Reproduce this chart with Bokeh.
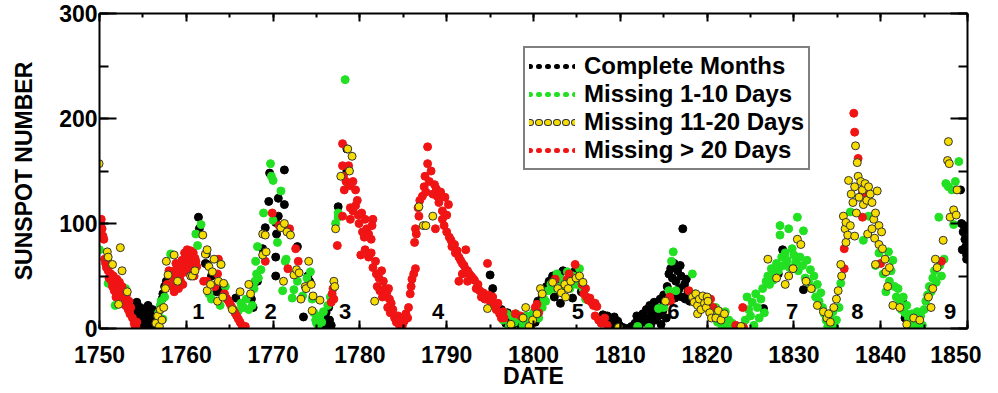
from bokeh.plotting import figure
from bokeh.models import (LinearAxis, SingleIntervalTicker, Range1d, Legend,
                          LegendItem, ColumnDataSource)
from bokeh.embed import file_html
from bokeh.resources import INLINE
from bokeh.core.properties import value

# ---------------- data (year, monthly sunspot number) ----------------
complete_months = [
    (1753.9,22),(1754.0,18),(1754.2,12),(1754.3,25),(1754.4,8),(1754.5,15),(1754.6,3),(1754.7,20),
    (1754.8,10),(1754.9,5),(1755.0,14),(1755.1,1),(1755.2,8),(1755.3,18),(1755.4,3),(1755.5,10),
    (1755.6,22),(1755.7,6),(1755.8,14),(1755.9,2),(1756.0,9),(1756.1,18),(1756.2,4),(1756.4,12),
    (1757.2,28),(1757.3,33),(1757.5,40),(1757.7,45),
    (1761.4,106),(1761.5,95),(1762.2,62),(1762.3,71),(1762.4,61),(1762.9,50),(1763.5,35),(1764.2,38),
    (1765.7,29),(1767.5,28),(1767.7,20),(1768.2,45),(1768.8,76),(1769.1,96),(1769.5,121),(1769.6,148),
    (1770.3,101),(1770.6,107),(1770.6,124),(1771.3,151),(1771.3,118),(1770.3,68),(1770.3,50),(1770.4,90),
    (1772.8,78),(1774.0,50),(1774.2,45),(1774.3,43),(1773.5,11),
    (1775.6,2),(1775.8,10),(1776.0,5),(1776.1,15),(1776.2,1),(1776.4,20),(1776.5,8),(1776.7,3),
    (1777.5,116),(1778.5,171),(1778.5,150),
    (1795.0,51),(1795.3,38),(1796.3,18),(1796.6,12),(1796.8,5),(1797.0,15),(1797.3,8),(1797.6,3),
    (1797.9,10),(1798.2,6),(1798.6,2),(1799.0,9),(1799.4,4),(1799.8,12),(1800.2,6),(1800.5,26),(1801.0,30),
    (1801.5,40),(1801.8,45),(1802.2,50),(1802.4,30),(1802.7,47),(1803.0,52),(1803.1,24),(1803.4,55),
    (1803.8,40),(1804.1,49),(1804.5,29),(1804.8,55),(1805.1,43),(1805.5,35),
    (1807.6,10),(1808.0,13),(1808.3,6),(1808.5,12),(1808.7,2),(1808.9,9),(1809.1,4),(1809.3,11),
    (1809.5,1),(1809.7,7),(1809.9,3),(1810.3,1),(1810.8,0),(1811.3,2),(1811.7,5),(1811.9,12),
    (1812.2,3),(1812.4,9),(1812.6,14),(1812.8,6),(1813.0,18),(1813.2,10),(1813.4,22),(1813.5,3),
    (1813.7,15),(1813.9,25),(1814.0,8),(1814.2,20),(1814.4,12),(1814.6,28),(1814.7,4),(1814.9,17),
    (1815.0,32),(1815.1,24),(1815.3,10),
    (1815.4,40),(1815.6,52),(1815.8,57),(1816.0,48),(1816.2,62),(1816.3,29),(1816.4,45),(1816.6,55),
    (1816.6,33),(1816.8,38),(1816.9,60),(1817.0,50),(1817.1,30),(1817.2,95),(1817.4,42),(1817.5,28),
    (1817.6,47),(1817.8,35),(1818.0,26),
    (1826.5,19),(1827.5,48),(1828.2,52),(1828.7,75),(1831.1,37),
    (1842.5,26),(1842.8,10),(1843.5,7),(1844.0,3),
    (1849.2,132),(1849.3,100),(1849.4,75),(1849.5,92),(1849.6,98),(1849.7,85),(1849.8,78),
    (1849.8,95),(1849.9,70),(1849.9,66),
]

missing_1_10 = [
    (1750.0,75),(1751.0,43),(1751.8,22),(1753.0,38),
    (1756.8,15),(1757.0,22),(1757.1,26),(1757.3,9),(1757.5,30),(1758.0,42),(1758.2,71),
    (1761.1,90),(1761.3,79),(1761.7,99),
    (1762.6,33),(1762.9,28),(1763.9,22),(1764.0,61),(1764.5,40),
    (1766.0,17),(1766.3,24),(1766.6,20),(1766.9,28),(1767.2,18),(1767.6,22),(1767.8,38),(1767.9,45),
    (1768.0,64),(1768.1,52),(1768.2,78),(1768.3,48),(1768.6,56),(1768.9,110),(1769.7,157),(1769.8,145),
    (1770.0,141),(1770.0,103),(1770.5,82),(1770.9,131),(1771.4,64),(1771.5,66),
    (1771.1,36),(1772.2,29),(1772.4,37),(1772.8,45),(1773.4,31),(1773.9,48),(1774.3,54),(1774.5,28),
    (1774.7,15),(1774.9,8),(1775.0,5),(1775.2,3),(1775.4,12),(1775.6,6),(1775.8,16),(1776.3,22),(1776.6,30),
    (1777.2,100),(1777.5,106),(1777.5,110),(1778.3,237),(1778.6,138),
    (1796.5,8),(1796.9,14),(1797.2,2),(1797.5,12),(1797.8,6),(1798.0,14),(1798.4,9),(1798.8,3),
    (1799.2,12),(1799.6,7),(1800.0,15),(1800.6,10),(1801.0,20),(1801.2,28),(1801.4,26),(1801.7,36),
    (1802.0,42),(1802.3,38),(1802.7,52),(1803.0,48),(1803.2,40),(1803.5,45),(1803.9,54),(1804.2,38),
    (1804.6,50),(1805.0,42),(1805.3,57),(1805.7,38),(1806.0,28),
    (1812.0,2),(1813.3,1),(1814.4,19),(1815.0,20),(1815.6,36),(1815.9,64),(1816.1,73),(1816.4,36),
    (1818.3,52),(1818.6,33),(1819.0,30),(1819.4,25),
    (1820.3,22),(1820.6,18),(1820.8,12),(1821.0,20),(1821.2,6),(1821.4,14),(1821.7,3),(1821.9,10),
    (1822.1,16),(1822.3,1),(1822.5,8),(1822.7,2),(1822.9,5),(1823.2,0),(1823.5,2),(1823.8,1),
    (1824.4,8),(1824.6,30),(1824.8,18),(1825.0,12),(1825.2,25),(1825.4,3),(1825.6,33),(1825.8,20),
    (1826.0,10),(1826.2,28),(1826.4,38),(1826.6,15),(1826.8,45),
    (1827.0,50),(1827.2,42),(1827.4,57),(1827.6,46),(1827.8,53),(1828.0,62),(1828.2,55),(1828.4,89),
    (1828.4,98),(1828.6,68),(1828.8,60),(1829.0,72),(1829.2,65),(1829.4,95),(1829.5,58),(1829.8,76),
    (1830.0,70),(1830.2,63),(1830.4,106),(1830.5,55),(1830.7,68),(1831.0,60),(1831.1,93),(1831.3,48),
    (1831.5,65),(1831.7,44),(1831.9,56),(1832.1,38),(1832.3,50),(1832.5,30),(1832.7,42),(1832.9,26),
    (1833.1,34),(1833.3,20),(1833.5,14),(1833.7,8),(1833.9,2),(1834.1,12),(1834.3,5),(1834.5,16),
    (1834.7,1),(1834.9,8),(1835.2,20),(1835.4,43),
    (1836.5,111),(1838.0,84),(1838.6,107),(1839.4,60),(1839.8,72),(1840.3,52),(1840.6,35),(1840.9,73),
    (1841.0,45),(1841.2,55),(1841.4,65),(1841.6,40),(1841.8,30),(1842.0,38),(1842.2,25),(1842.4,18),
    (1842.6,30),(1842.8,15),(1843.0,22),(1843.2,10),(1843.4,4),(1843.6,14),(1843.8,2),(1844.0,8),
    (1844.2,16),(1844.4,5),(1844.6,12),(1844.8,3),(1845.0,18),(1845.2,26),(1845.4,32),(1845.6,40),
    (1845.8,35),(1846.0,48),(1846.2,55),(1846.4,44),(1846.7,106),(1846.8,60),(1847.0,50),(1847.3,66),
    (1847.5,138),(1847.8,135),(1848.2,132),(1848.4,99),(1848.6,140),(1849.0,159),
]

missing_11_20 = [
    (1749.95,157),(1750.9,73),(1751.0,68),(1751.5,61),(1752.2,23),(1752.4,77),(1752.6,55),(1753.2,35),
    (1756.5,5),(1756.7,12),(1756.9,2),(1757.0,18),(1757.2,8),(1757.4,20),(1757.6,38),(1757.7,64),
    (1757.9,51),(1758.6,70),
    (1759.0,45),(1760.5,50),(1760.7,50),(1761.0,55),(1761.9,89),
    (1762.2,71),(1762.4,75),(1762.4,36),(1762.6,59),(1762.8,42),(1763.0,54),(1763.2,66),(1763.6,26),
    (1763.7,45),(1764.0,61),(1764.2,30),(1764.3,43),(1765.3,18),
    (1766.2,35),(1767.2,42),(1767.4,33),(1768.8,70),(1768.8,90),(1769.1,89),(1769.2,73),(1770.9,96),
    (1771.2,45),(1771.3,100),(1771.6,92),(1772.0,89),
    (1772.4,51),(1772.7,56),(1773.0,53),(1773.2,28),(1773.7,40),(1773.8,38),(1774.1,64),(1774.4,42),
    (1774.5,17),(1774.6,31),(1775.4,27),(1777.0,45),(1777.1,40),
    (1777.2,95),(1777.8,145),(1778.6,171),(1778.8,150),(1779.1,164),(1781.7,26),
    (1787.3,98),(1786.8,116),(1787.6,98),(1788.4,107),
    (1794.7,19),(1797.4,4),(1798.8,10),(1799.1,20),(1799.5,2),(1799.9,8),(1800.4,14),(1800.8,38),(1801.0,33),
    (1802.2,44),(1802.8,38),(1803.2,34),(1803.6,42),(1803.7,30),(1804.0,38),(1804.3,45),(1804.9,48),
    (1805.3,50),(1805.7,44),
    (1809.8,1),(1815.2,26),
    (1818.3,30),(1818.5,25),(1818.7,33),(1818.9,22),(1818.9,14),(1819.1,28),(1819.3,18),(1819.5,31),
    (1819.7,24),(1819.9,20),(1820.0,30),(1820.1,26),(1820.3,15),(1820.5,10),(1821.0,10),(1821.3,17),
    (1821.6,8),(1822.0,14),(1823.9,2),
    (1827.0,66),(1828.0,48),(1829.0,42),(1829.4,50),(1829.9,57),(1830.4,85),(1830.8,80),(1831.4,45),
    (1832.0,38),(1832.7,22),(1833.4,16),(1833.8,10),(1834.0,14),(1834.2,6),(1834.6,20),(1834.9,28),
    (1835.1,36),(1835.4,61),(1835.5,50),
    (1835.7,107),(1835.9,95),(1836.0,101),(1836.0,82),(1836.2,89),(1836.3,141),(1836.5,98),(1836.6,128),
    (1836.8,120),(1837.0,135),(1837.0,88),(1837.1,174),(1837.2,110),(1837.3,158),(1837.4,145),(1837.5,125),
    (1837.7,140),(1837.9,132),(1838.0,118),(1838.2,138),(1838.4,122),(1838.5,90),(1838.6,135),(1838.8,128),
    (1839.0,120),(1839.0,95),(1839.2,104),(1839.3,86),(1839.4,110),(1839.4,61),(1839.6,131),(1839.8,98),
    (1839.8,80),(1840.1,92),(1840.2,76),(1840.5,66),(1840.6,54),(1841.0,58),(1840.8,40),
    (1841.4,22),(1842.2,20),(1843.0,4),(1843.8,10),(1844.5,8),(1845.5,30),(1845.8,20),(1846.0,38),
    (1846.3,66),(1846.5,58),(1847.2,84),(1847.7,160),(1847.8,178),(1847.9,157),(1848.0,106),(1848.4,113),
    (1848.7,108),(1848.8,132),
]

missing_over_20 = [
    (1750.1,100),(1750.2,104),(1750.3,95),(1750.4,88),(1750.5,85),(1750.6,66),(1750.7,62),(1750.8,58),
    (1750.9,64),(1751.0,55),(1751.1,48),(1751.2,60),(1751.3,52),(1751.4,45),(1751.5,40),(1751.6,50),
    (1751.7,36),(1751.8,42),(1751.9,30),(1752.0,47),(1752.1,38),(1752.2,33),(1752.3,44),(1752.4,28),
    (1752.5,35),(1752.6,40),(1752.7,25),(1752.9,30),(1753.0,22),(1753.1,32),(1753.3,18),(1753.4,26),
    (1753.5,14),(1753.6,20),(1753.8,10),(1754.0,5),(1754.1,2),(1754.2,1),(1754.3,6),
    (1757.8,42),(1758.0,55),(1758.4,40),(1758.5,48),(1758.6,35),(1758.7,55),(1758.8,62),(1758.9,44),
    (1759.0,50),(1759.1,38),(1759.2,58),(1759.3,46),(1759.4,52),(1759.5,65),(1759.6,42),(1759.7,60),
    (1759.8,72),(1759.9,54),(1760.0,68),(1760.1,75),(1760.2,63),(1760.3,70),(1760.4,57),(1760.5,74),
    (1760.6,66),(1760.7,61),(1760.8,72),(1760.9,50),(1761.0,67),(1761.1,64),(1761.2,59),
    (1762.0,45),(1762.4,45),(1763.3,40),(1763.6,52),(1763.7,66),(1764.4,33),(1764.6,29),(1764.8,27),
    (1765.0,24),(1765.2,21),(1765.4,18),(1765.6,15),(1765.8,12),(1766.0,9),(1766.2,6),(1766.4,3),
    (1766.6,1),(1766.8,2),
    (1769.1,64),(1769.9,110),(1770.7,98),(1771.7,57),(1771.9,95),(1772.6,76),(1772.9,64),
    (1776.7,25),(1776.8,33),(1776.9,38),(1777.0,28),(1777.4,79),
    (1778.0,176),(1778.0,155),(1778.7,155),(1778.1,145),(1778.4,140),(1778.9,136),(1779.2,140),(1779.5,132),
    (1778.2,132),(1779.7,122),(1778.0,107),(1778.9,115),(1779.2,112),(1779.5,117),(1779.8,108),(1780.2,110),
    (1780.6,104),(1781.5,104),(1778.9,104),(1779.9,100),(1780.3,92),(1780.5,87),(1780.8,95),(1781.0,90),
    (1781.3,85),(1781.4,98),(1780.1,70),(1780.6,75),(1781.0,68),(1781.3,72),(1781.8,64),(1781.5,58),
    (1781.9,52),(1782.2,48),(1782.5,55),(1782.7,45),(1782.0,40),(1782.3,36),(1782.6,30),(1782.9,38),
    (1783.1,34),(1783.3,38),(1783.4,28),(1783.6,24),(1783.2,20),(1783.5,15),(1783.8,18),(1784.0,10),
    (1784.2,6),(1784.4,12),(1784.5,4),(1784.7,8),(1784.9,3),(1785.1,7),(1785.3,14),(1785.5,10),
    (1785.6,20),(1785.8,33),(1785.9,40),(1786.0,47),(1786.2,52),(1786.4,57),(1786.3,82),(1786.5,90),
    (1786.4,95),(1786.8,107),(1786.7,115),(1786.9,122),(1787.2,126),(1787.4,135),(1787.5,145),(1787.6,130),
    (1787.8,157),(1787.8,173),(1788.0,140),(1788.2,150),(1788.4,128),(1788.6,137),(1788.9,126),(1788.8,133),
    (1789.1,120),(1789.3,130),(1789.5,112),(1789.8,125),(1790.0,108),(1790.2,118),(1788.7,95),(1789.5,104),
    (1789.7,98),(1790.0,92),(1790.3,87),(1790.5,84),(1790.6,78),(1790.9,80),(1791.0,72),(1791.2,74),
    (1791.4,68),(1791.6,65),(1791.8,62),(1791.8,52),(1792.0,60),(1792.2,75),(1792.2,56),(1792.4,55),
    (1792.6,52),(1792.8,50),(1793.0,48),(1791.4,45),(1792.4,45),(1793.2,46),(1793.4,38),(1793.6,42),
    (1793.8,36),(1794.0,30),(1794.2,34),(1794.4,28),(1794.7,62),(1794.8,32),(1795.0,26),(1795.3,30),
    (1795.5,22),(1795.7,18),(1795.9,24),(1796.1,14),(1796.3,10),(1796.5,16),(1796.6,10),
    (1797.9,14),(1798.5,12),(1800.2,20),(1800.4,23),(1800.6,15),
    (1802.5,47),(1803.9,47),(1804.1,52),(1804.8,61),(1805.6,42),(1805.8,33),(1806.0,38),(1806.1,30),
    (1806.3,27),(1806.5,29),(1806.7,25),(1806.9,22),(1807.1,24),(1807.3,21),(1807.1,12),(1807.5,8),
    (1807.8,5),(1808.2,10),(1808.5,3),
    (1815.7,30),(1815.8,26),(1817.9,36),
    (1820.4,28),(1820.7,20),(1823.3,3),(1824.1,20),(1824.2,1),
    (1835.8,57),(1835.8,76),(1836.9,205),(1837.0,187),(1837.4,162),(1837.9,129),(1837.9,106),(1838.2,129),
    (1840.0,62),
    (1847.0,64),
]

cycle_labels = ["1", "2", "3", "4", "5", "6", "7", "8", "9"]
cycle_years = [1761.4, 1769.7, 1778.3, 1789.0, 1805.1, 1816.1, 1829.8, 1837.3, 1848.0]
cycle_label_y = [16, 16, 16, 16, 16, 16, 16, 16, 16]

series_names = ["Complete Months", "Missing 1-10 Days", "Missing 11-20 Days", "Missing > 20 Days"]

x_start, x_end, x_ticks_interval = 1750, 1850, 10
y_start, y_end, y_ticks_interval = 0, 300, 100

# ---------------- styles ----------------
FONT = "Liberation Sans"
BLACK = "#000000"
GREEN = "#22e022"
YELLOW = "#f7dc00"
RED = "#f01414"

p = figure(frame_width=868, frame_height=315,
           x_range=Range1d(x_start, x_end), y_range=Range1d(y_start, y_end),
           output_backend="svg", toolbar_location=None,
           min_border_left=99, min_border_right=14, min_border_top=13, min_border_bottom=0,
           background_fill_color="white", border_fill_color="white")
p.grid.visible = False
p.outline_line_color = None


def style_axis(ax, ticker, major_in, minor_in, show_labels):
    ax.ticker = ticker
    ax.axis_line_width = 2
    ax.axis_line_color = "black"
    ax.major_tick_in = major_in
    ax.major_tick_out = 0
    ax.minor_tick_in = minor_in
    ax.minor_tick_out = 0
    ax.major_tick_line_width = 2
    ax.minor_tick_line_width = 2
    ax.major_tick_line_color = "black"
    ax.minor_tick_line_color = "black"
    if show_labels:
        ax.major_label_text_font = FONT
        ax.major_label_text_font_style = "bold"
        ax.major_label_text_font_size = "23px"
        ax.major_label_text_color = "black"
        ax.axis_label_text_font = FONT
        ax.axis_label_text_font_style = "bold"
        ax.axis_label_text_font_size = "23px"
        ax.axis_label_text_color = "black"
    else:
        ax.major_label_text_font_size = "1px"
        ax.major_label_text_color = None
        ax.major_label_standoff = 0


xt = lambda: SingleIntervalTicker(interval=x_ticks_interval, num_minor_ticks=2)
yt = lambda: SingleIntervalTicker(interval=y_ticks_interval, num_minor_ticks=2)

style_axis(p.xaxis[0], xt(), 8, 4, True)
p.xaxis[0].axis_label = "DATE"
p.xaxis[0].major_label_standoff = 17
p.xaxis[0].axis_label_standoff = -3

style_axis(p.yaxis[0], yt(), 17, 9, True)
p.yaxis[0].axis_label = "SUNSPOT NUMBER"
p.yaxis[0].major_label_standoff = 2
p.yaxis[0].axis_label_standoff = 19

top_ax = LinearAxis()
style_axis(top_ax, xt(), 8, 4, False)
p.add_layout(top_ax, "above")
right_ax = LinearAxis()
style_axis(right_ax, yt(), 17, 9, False)
p.add_layout(right_ax, "right")


def src(pairs):
    return ColumnDataSource(dict(x=[a for a, b in pairs], y=[b for a, b in pairs]))


# legend sample lines (zero-length at the first point of each series, hidden under its marker)
dash = "1 8"
def stub(pairs):
    return ColumnDataSource(dict(x=[pairs[0][0]] * 2, y=[pairs[0][1]] * 2))

lb = p.line("x", "y", source=stub(complete_months), line_color=BLACK, line_width=5, line_dash=dash, line_cap="round")
lg = p.line("x", "y", source=stub(missing_1_10), line_color=GREEN, line_width=5, line_dash=dash, line_cap="round")
ly0 = p.line("x", "y", source=stub(missing_11_20), line_color="#333333", line_width=7, line_dash=dash, line_cap="round")
ly1 = p.line("x", "y", source=stub(missing_11_20), line_color=YELLOW, line_width=5, line_dash=dash, line_cap="round")
lr = p.line("x", "y", source=stub(missing_over_20), line_color=RED, line_width=5, line_dash=dash, line_cap="round")

p.scatter("x", "y", source=src(complete_months), size=8, fill_color=BLACK, line_color=BLACK)
p.scatter("x", "y", source=src(missing_1_10), size=8, fill_color=GREEN, line_color=GREEN)
p.scatter("x", "y", source=src(missing_over_20), size=8, fill_color=RED, line_color=RED)
p.scatter("x", "y", source=src(missing_11_20), size=8, fill_color=YELLOW, line_color="#333333",
          line_width=1)

# cycle numbers
p.text(x="x", y="y", text="t",
       source=ColumnDataSource(dict(x=cycle_years, y=cycle_label_y, t=cycle_labels)),
       text_font=value(FONT), text_font_style="bold", text_font_size="22px",
       text_align="center", text_baseline="middle", text_color="black")

legend = Legend(items=[
    LegendItem(label=series_names[0], renderers=[lb]),
    LegendItem(label=series_names[1], renderers=[lg]),
    LegendItem(label=series_names[2], renderers=[ly0, ly1]),
    LegendItem(label=series_names[3], renderers=[lr]),
], location=(424, 158))
legend.label_text_font = FONT
legend.label_text_font_style = "bold"
legend.label_text_font_size = "24px"
legend.label_text_color = "black"
legend.label_standoff = 9
legend.glyph_width = 46
legend.glyph_height = 20
legend.label_height = 20
legend.spacing = -3
legend.padding = 4
legend.margin = 0
legend.border_line_color = "black"
legend.border_line_width = 2
legend.background_fill_color = "white"
legend.background_fill_alpha = 1.0
p.add_layout(legend)

open("out.html", "w").write(file_html(p, INLINE))
